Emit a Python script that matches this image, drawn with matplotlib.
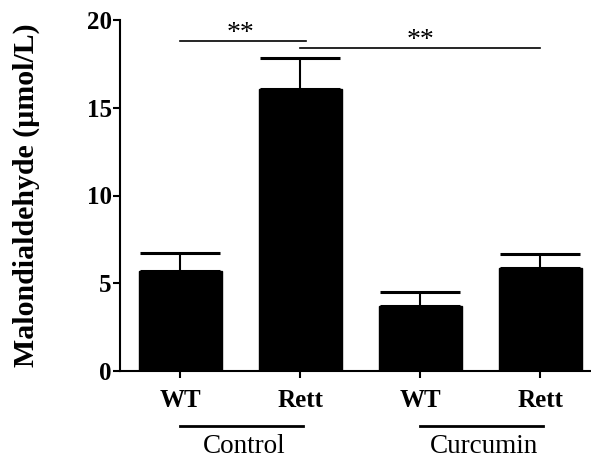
import numpy as np
import matplotlib.pyplot as plt

# Malondialdehyde levels
groups = ['Control', 'Curcumin']
bar_labels = ['WT', 'Rett', 'WT', 'Rett']
means = [5.67, 16.04, 3.71, 5.87]
sems = [1.03, 1.81, 0.80, 0.80]

# significance brackets: (left bar, right bar, height, text)
sig_pairs = [(0, 1, 18.82, '**'), (1, 3, 18.42, '**')]

plt.rcParams['font.family'] = ['Liberation Serif', 'DejaVu Serif']

fig = plt.figure(figsize=(5.91, 4.59), dpi=100)
ax = fig.add_axes([120 / 591, 1 - 371 / 459, 471 / 591, 351 / 459])

x = np.arange(len(means))
ax.bar(x, means, width=0.69, color='black', edgecolor='black')
ax.errorbar(x, means, yerr=[np.zeros(len(sems)), sems], fmt='none',
            ecolor='black', elinewidth=1.5, capsize=29, capthick=2.2)

ax.set_xlim(-0.504, 3.421)
ax.set_ylim(0, 20)
ax.set_yticks([0, 5, 10, 15, 20])
ax.set_xticks(x)
ax.set_xticklabels(bar_labels, fontweight='bold', fontsize=18)
for lab in ax.get_yticklabels():
    lab.set_fontweight('bold')
    lab.set_fontsize(18)

ax.spines['top'].set_visible(False)
ax.spines['right'].set_visible(False)
ax.spines['left'].set_linewidth(1.5)
ax.spines['bottom'].set_linewidth(1.5)
ax.tick_params(axis='y', length=5, width=1.5, pad=1)
ax.tick_params(axis='x', length=5, width=1.5, pad=8)

ax.set_ylabel('Malondialdehyde (µmol/L)', fontsize=21.5, fontweight='bold')
ax.yaxis.set_label_coords(-0.17, 0.5)

# significance lines
for a, b, h, txt in sig_pairs:
    ax.plot([a, b + 0.05 * (b == 1)], [h, h], color='black', lw=1.2, clip_on=False)
    ax.text((a + b) / 2, h - 0.3, txt, ha='center', va='bottom', fontsize=20)

# group lines under the tick labels
trans = ax.get_xaxis_transform()
for i, g in enumerate(groups):
    ax.plot([2 * i, 2 * i + 1.02], [-0.157, -0.157], color='black', lw=2,
            transform=trans, clip_on=False)
    ax.text(2 * i + 0.53, -0.2165, g, ha='center', va='center', fontsize=19.5,
            transform=trans)

fig.savefig('out.png', dpi=100)
